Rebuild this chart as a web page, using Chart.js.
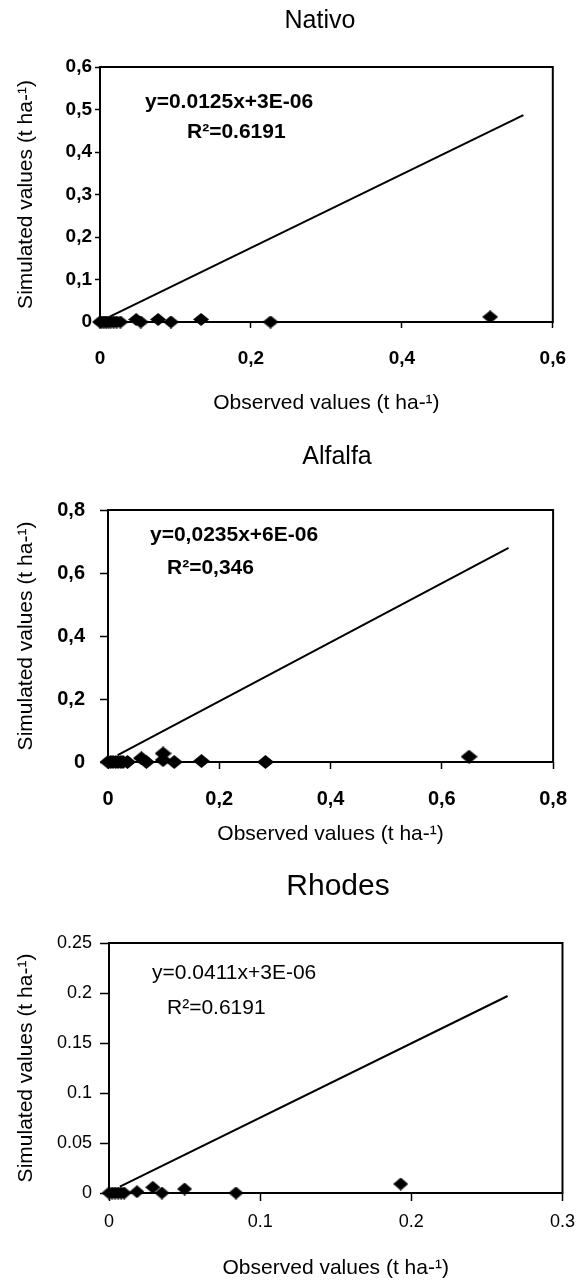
<!DOCTYPE html>
<html>
<head>
<meta charset="utf-8">
<script src="https://cdn.jsdelivr.net/npm/chart.js@4.4.0/dist/chart.umd.min.js"></script>
<style>
body { margin: 0; background: #fff; width: 585px; height: 1287px; position: relative; overflow: hidden; }
canvas { position: absolute; left: 0; }
</style>
</head>
<body>
<canvas id="c1" width="585" height="430" style="top:0px"></canvas>
<canvas id="c2" width="585" height="425" style="top:430px"></canvas>
<canvas id="c3" width="585" height="432" style="top:855px"></canvas>
<script>
// Nativo
var nativoObs = [0, 0.002, 0.005, 0.008, 0.011, 0.014, 0.018, 0.022, 0.027, 0.048, 0.054, 0.077, 0.094, 0.134, 0.226, 0.517];
var nativoSim = [0, 0, 0, 0, 0, 0, 0, 0, 0, 0.006, 0, 0.006, 0, 0.006, 0, 0.012];
var nativoFitX = [0.013, 0.561];
var nativoFitY = [0.0125, 0.487];
var nativoXTicks = [0, 0.2, 0.4, 0.6];
var nativoXLabels = ['0', '0,2', '0,4', '0,6'];
var nativoYTicks = [0, 0.1, 0.2, 0.3, 0.4, 0.5, 0.6];
var nativoYLabels = ['0', '0,1', '0,2', '0,3', '0,4', '0,5', '0,6'];

// Alfalfa
var alfalfaObs = [0, 0.005, 0.009, 0.014, 0.018, 0.023, 0.027, 0.035, 0.060, 0.069, 0.099, 0.099, 0.119, 0.168, 0.283, 0.649];
var alfalfaSim = [0, 0, 0, 0, 0, 0, 0, 0, 0.012, 0, 0.027, 0.006, 0, 0.003, 0, 0.017];
var alfalfaFitX = [0.0174, 0.72];
var alfalfaFitY = [0.022, 0.68];
var alfalfaXTicks = [0, 0.2, 0.4, 0.6, 0.8];
var alfalfaXLabels = ['0', '0,2', '0,4', '0,6', '0,8'];
var alfalfaYTicks = [0, 0.2, 0.4, 0.6, 0.8];
var alfalfaYLabels = ['0', '0,2', '0,4', '0,6', '0,8'];

// Rhodes
var rhodesObs = [0, 0.002, 0.004, 0.006, 0.008, 0.010, 0.0185, 0.029, 0.035, 0.050, 0.084, 0.193];
var rhodesSim = [0, 0, 0, 0, 0, 0, 0.0013, 0.0057, 0, 0.004, 0, 0.009];
var rhodesFitX = [0.0072, 0.2637];
var rhodesFitY = [0.0063, 0.197];
var rhodesXTicks = [0, 0.1, 0.2, 0.3];
var rhodesXLabels = ['0', '0.1', '0.2', '0.3'];
var rhodesYTicks = [0, 0.05, 0.1, 0.15, 0.2, 0.25];
var rhodesYLabels = ['0', '0.05', '0.1', '0.15', '0.2', '0.25'];

var FONT = 'Arial, "Liberation Sans", sans-serif';

function diamond(w, h) {
  var c = document.createElement('canvas');
  c.width = w; c.height = h;
  var g = c.getContext('2d');
  g.fillStyle = '#000';
  g.beginPath();
  g.moveTo(w / 2, 0); g.lineTo(w, h / 2); g.lineTo(w / 2, h); g.lineTo(0, h / 2);
  g.closePath();
  g.fill();
  return c;
}

function pairs(xs, ys) {
  return xs.map(function(x, i) { return {x: x, y: ys[i]}; });
}

// box round the plot area + free text (titles, equation)
var framePlugin = {
  id: 'frame',
  beforeDatasetsDraw: function(chart) {
    var a = chart.chartArea, ctx = chart.ctx;
    ctx.save();
    ctx.strokeStyle = '#000';
    ctx.lineWidth = 2;
    ctx.strokeRect(a.left, a.top, a.right - a.left, a.bottom - a.top);
    ctx.restore();
  },
  afterDraw: function(chart, args, opts) {
    var ctx = chart.ctx;
    ctx.save();
    ctx.fillStyle = '#000';
    ctx.textBaseline = 'middle';
    (opts.texts || []).forEach(function(t) {
      ctx.font = t.font;
      ctx.textAlign = t.align || 'left';
      ctx.fillText(t.text, t.x, t.y);
    });
    ctx.restore();
  }
};

function makeChart(id, c) {
  var tickFont = {family: FONT, size: c.tickSize, weight: c.tickWeight};
  return new Chart(document.getElementById(id), {
    type: 'scatter',
    data: {
      datasets: [{
        label: 'fit',
        type: 'line',
        data: pairs(c.fitX, c.fitY),
        borderColor: '#000',
        borderWidth: 2,
        pointRadius: 0,
        fill: false,
        clip: false
      }, {
        label: 'values',
        data: pairs(c.obs, c.sim),
        pointStyle: diamond(c.dw, c.dh),
        pointRadius: 8,
        clip: false
      }]
    },
    options: {
      responsive: false,
      animation: false,
      layout: {padding: {top: c.padTop, right: c.padRight, left: 0, bottom: 0}},
      plugins: {
        legend: {display: false},
        tooltip: {enabled: false},
        frame: {texts: c.texts}
      },
      scales: {
        x: {
          type: 'linear', min: 0, max: c.xTicks[c.xTicks.length - 1],
          afterBuildTicks: function(s) { s.ticks = c.xTicks.map(function(v) { return {value: v}; }); },
          afterFit: function(s) { s.height = c.xHeight; },
          border: {display: false},
          grid: {drawOnChartArea: false, drawTicks: true, tickLength: c.xTickLen, tickColor: '#000', tickWidth: 1.5},
          ticks: {color: '#000', font: tickFont, padding: c.xLabelPad, maxRotation: 0, autoSkip: false,
            callback: function(v, i) { return c.xLabels[i]; }},
          title: {display: true, text: 'Observed values (t ha-¹)', color: '#000',
            font: {family: FONT, size: 21}, padding: {top: 0, bottom: c.xTitlePad}}
        },
        y: {
          type: 'linear', min: 0, max: c.yTicks[c.yTicks.length - 1],
          afterBuildTicks: function(s) { s.ticks = c.yTicks.map(function(v) { return {value: v}; }); },
          afterFit: function(s) { s.width = c.yWidth; },
          border: {display: false},
          grid: {drawOnChartArea: false, drawTicks: true, tickLength: c.yTickLen, tickColor: '#000', tickWidth: 1.5},
          ticks: {color: '#000', font: tickFont, padding: c.yLabelPad, autoSkip: false,
            callback: function(v, i) { return c.yLabels[i]; }},
          title: {display: true, text: 'Simulated values (t ha-¹)', color: '#000',
            font: {family: FONT, size: 21}, padding: {top: 14, bottom: 0}}
        }
      }
    },
    plugins: [framePlugin]
  });
}

Chart.defaults.font.family = FONT;

makeChart('c1', {
  obs: nativoObs, sim: nativoSim, fitX: nativoFitX, fitY: nativoFitY,
  xTicks: nativoXTicks, xLabels: nativoXLabels, yTicks: nativoYTicks, yLabels: nativoYLabels,
  tickSize: 19, tickWeight: 'bold', dw: 16, dh: 13,
  padTop: 67, padRight: 22, yWidth: 100, xHeight: 108,
  xTickLen: 6, xLabelPad: 19, xTitlePad: 14, yTickLen: 5, yLabelPad: 3,
  texts: [
    {text: 'Nativo', x: 320, y: 21, font: '25px ' + FONT, align: 'center'},
    {text: 'y=0.0125x+3E-06', x: 145, y: 102, font: 'bold 21px ' + FONT},
    {text: 'R²=0.6191', x: 187, y: 132, font: 'bold 21px ' + FONT}
  ]
});

makeChart('c2', {
  obs: alfalfaObs, sim: alfalfaSim, fitX: alfalfaFitX, fitY: alfalfaFitY,
  xTicks: alfalfaXTicks, xLabels: alfalfaXLabels, yTicks: alfalfaYTicks, yLabels: alfalfaYLabels,
  tickSize: 20, tickWeight: 'bold', dw: 17, dh: 14,
  padTop: 80, padRight: 17, yWidth: 108, xHeight: 93,
  xTickLen: 7, xLabelPad: 18, xTitlePad: 8, yTickLen: 8, yLabelPad: 15,
  texts: [
    {text: 'Alfalfa', x: 337, y: 27, font: '25px ' + FONT, align: 'center'},
    {text: 'y=0,0235x+6E-06', x: 150, y: 105, font: 'bold 21px ' + FONT},
    {text: 'R²=0,346', x: 167, y: 138, font: 'bold 21px ' + FONT}
  ]
});

makeChart('c3', {
  obs: rhodesObs, sim: rhodesSim, fitX: rhodesFitX, fitY: rhodesFitY,
  xTicks: rhodesXTicks, xLabels: rhodesXLabels, yTicks: rhodesYTicks, yLabels: rhodesYLabels,
  tickSize: 18, tickWeight: 'normal', dw: 15, dh: 13,
  padTop: 88, padRight: 16, yWidth: 109, xHeight: 94,
  xTickLen: 8, xLabelPad: 10, xTitlePad: 6, yTickLen: 9, yLabelPad: 8,
  texts: [
    {text: 'Rhodes', x: 338, y: 32, font: '30px ' + FONT, align: 'center'},
    {text: 'y=0.0411x+3E-06', x: 152, y: 118, font: '21px ' + FONT},
    {text: 'R²=0.6191', x: 167, y: 153, font: '21px ' + FONT}
  ]
});
</script>
</body>
</html>
